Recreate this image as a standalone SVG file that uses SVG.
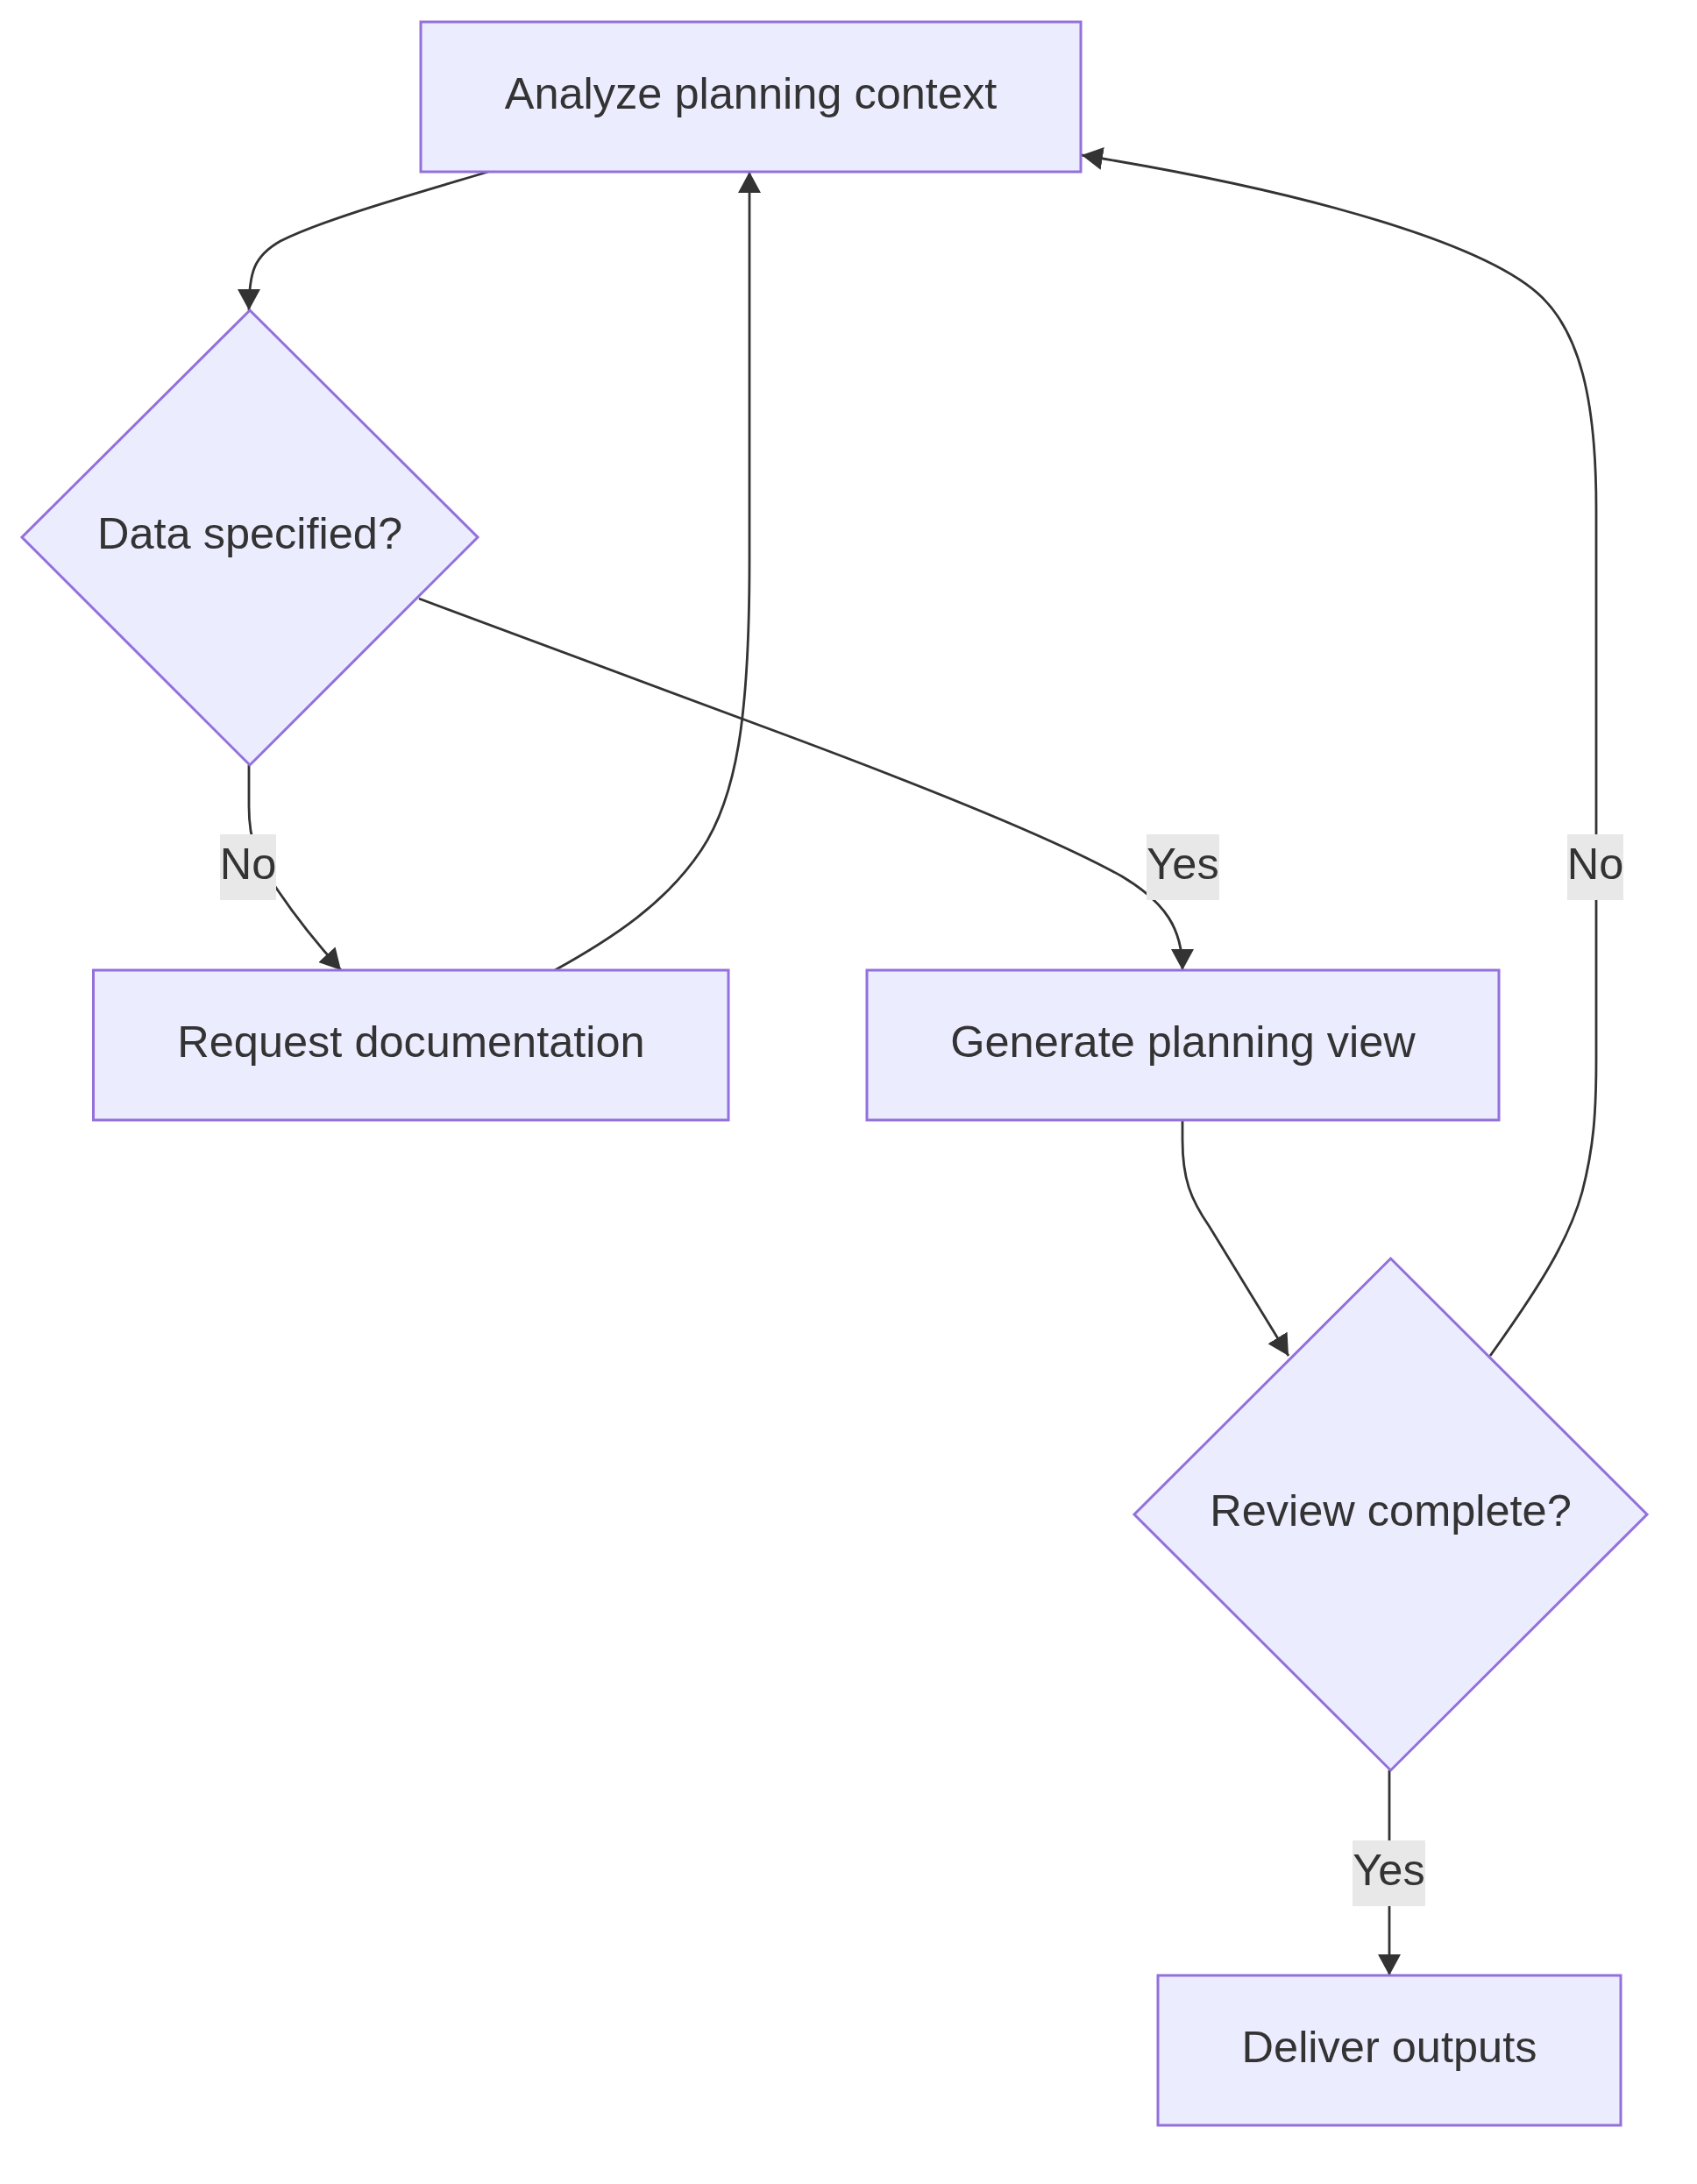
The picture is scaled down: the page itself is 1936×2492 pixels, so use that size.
<svg xmlns="http://www.w3.org/2000/svg" width="1936" height="2492" viewBox="0 0 1936 2492">
<style>
.node rect, .node polygon { fill: #ECECFF; stroke: #9370DB; stroke-width: 3; }
.node text, .elabel text { font-family: "Liberation Sans", Arial, sans-serif; font-size: 50.5px; fill: #333333; text-anchor: middle; }
.edge { fill: none; stroke: #333333; stroke-width: 2.8; }
.elabel rect { fill: #E8E8E8; }
</style>
<defs>
<marker id="arrow" viewBox="0 0 12 13" refX="12" refY="6.5" markerUnits="userSpaceOnUse" markerWidth="24" markerHeight="26" orient="auto">
<path d="M0,0 L12,6.5 L0,13 z" fill="#333333"/>
</marker>
</defs>
<rect width="1936" height="2492" fill="#FFFFFF"/>
<g id="connectors">
<path class="edge" marker-end="url(#arrow)" d="M557,196 C470,222 370,250 320,275 C290,292 284,310 284,354"/>
<path class="edge" marker-end="url(#arrow)" d="M284,873 L284,920 C284,960 295,990 315,1013 C333,1040 360,1075 389,1107"/>
<path class="edge" marker-end="url(#arrow)" d="M478,683 L900,840 C1050,896 1200,955 1280,1000 C1330,1030 1349,1060 1349,1107"/>
<path class="edge" marker-end="url(#arrow)" d="M633,1107 C700,1070 760,1030 800,970 C840,910 855,820 855,640 L855,196"/>
<path class="edge" marker-end="url(#arrow)" d="M1349,1278 L1349,1300 C1349,1345 1358,1368 1380,1400 L1470,1547"/>
<path class="edge" marker-end="url(#arrow)" d="M1700,1547 C1755,1470 1790,1415 1805,1360 C1818,1310 1821,1270 1821,1210 L1821,580 C1821,450 1800,380 1760,340 C1700,280 1500,220 1234,177"/>
<path class="edge" marker-end="url(#arrow)" d="M1585,2020 L1585,2254"/>
</g>
<g id="edge-labels">
<g class="elabel" id="label-d1-no"><rect x="251" y="952" width="64" height="75"/><text x="283" y="1003">No</text></g>
<g class="elabel" id="label-d1-yes"><rect x="1308" y="952" width="83" height="75"/><text x="1349.5" y="1003">Yes</text></g>
<g class="elabel" id="label-d2-no"><rect x="1788" y="952" width="64" height="75"/><text x="1820" y="1003">No</text></g>
<g class="elabel" id="label-d2-yes"><rect x="1543" y="2100" width="83" height="75"/><text x="1584.5" y="2151">Yes</text></g>
</g>
<g class="node" id="analyze"><rect x="480" y="25" width="753" height="171"/><text x="856.5" y="123.5">Analyze planning context</text></g>
<g class="node" id="data-specified"><polygon points="285,354 545,613 285,873 25,613"/><text x="285" y="626">Data specified?</text></g>
<g class="node" id="request-doc"><rect x="106.5" y="1107" width="724.5" height="171"/><text x="469" y="1206">Request documentation</text></g>
<g class="node" id="generate-view"><rect x="989" y="1107" width="721" height="171"/><text x="1349.5" y="1206">Generate planning view</text></g>
<g class="node" id="review-complete"><polygon points="1586.5,1436 1879,1728 1586.5,2020 1294,1728"/><text x="1586.5" y="1741">Review complete?</text></g>
<g class="node" id="deliver"><rect x="1321" y="2254" width="528" height="171"/><text x="1585" y="2353">Deliver outputs</text></g>
</svg>
